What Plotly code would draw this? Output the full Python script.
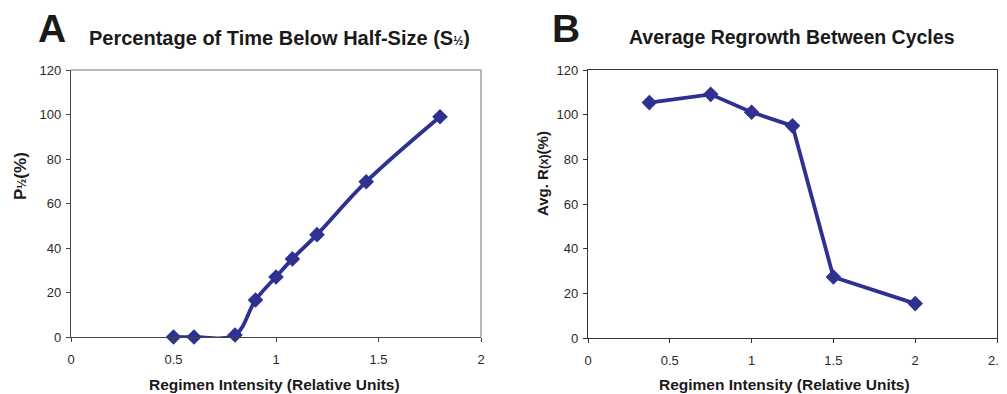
import plotly.graph_objects as go

# Panel A data
a_x = [0.5, 0.6, 0.8, 0.9, 1.0, 1.08, 1.2, 1.44, 1.8]
a_y = [0.0, 0.0, 0.9, 16.6, 27.0, 35.1, 46.0, 69.8, 99.0]
# Panel B data
b_x = [0.375, 0.75, 1.0, 1.25, 1.5, 2.0]
b_y = [105.4, 109.1, 101.1, 95.0, 27.3, 15.4]

a_xticks = [0, 0.5, 1, 1.5, 2]
b_xticks = [0, 0.5, 1, 1.5, 2, 2.5]
yticks = [0, 20, 40, 60, 80, 100, 120]

W, H = 1007, 394
OFF = 8  # page body margin offset
COL = "#2E3192"
FONT = "Liberation Sans, Arial, sans-serif"

def px(x):
    return (x - OFF) / W

def py(y):
    return 1 - (y - OFF) / H

fig = go.Figure()
fig.add_trace(go.Scatter(x=a_x, y=a_y, mode="lines+markers", xaxis="x", yaxis="y",
                         line=dict(color=COL, width=3.8, shape="spline", smoothing=1.0),
                         marker=dict(symbol="diamond", size=12, color=COL),
                         showlegend=False, cliponaxis=False))
fig.add_trace(go.Scatter(x=b_x, y=b_y, mode="lines+markers", xaxis="x2", yaxis="y2",
                         line=dict(color=COL, width=3.8),
                         marker=dict(symbol="diamond", size=12, color=COL),
                         showlegend=False, cliponaxis=False))

tickfont = dict(family=FONT, size=13, color="#2a2a2a")
axcommon = dict(showgrid=False, zeroline=False, ticks="outside", ticklen=4, tickwidth=1,
                tickfont=tickfont, showline=True, linewidth=1.3, fixedrange=True,
                ticklabeloverflow="allow")

fig.update_layout(
    width=W, height=H, margin=dict(l=0, r=0, t=0, b=0, autoexpand=False),
    paper_bgcolor="white", plot_bgcolor="white",
    xaxis=dict(domain=[px(71), px(481)], range=[0, 2], tickvals=a_xticks,
               ticktext=[str(v) for v in a_xticks], linecolor="#444444", tickcolor="#444444",
               anchor="y", mirror=False, ticklabelstandoff=6, **axcommon),
    yaxis=dict(domain=[py(337), py(70)], range=[0, 120], tickvals=yticks,
               linecolor="#444444", tickcolor="#444444", anchor="x", ticklabelstandoff=2, **axcommon),
    xaxis2=dict(domain=[px(588), px(997)], range=[0, 2.5], tickvals=b_xticks,
                ticktext=[str(v) for v in b_xticks], linecolor="#333333", tickcolor="#333333",
                anchor="y2", mirror=True, ticklabelstandoff=6, **axcommon),
    yaxis2=dict(domain=[py(338), py(70)], range=[0, 120], tickvals=yticks,
                linecolor="#333333", tickcolor="#333333", anchor="x2", mirror=True,
                ticklabelstandoff=2, **axcommon),
)

# Gray top/right frame of panel A
fig.add_shape(type="line", xref="paper", yref="paper", x0=px(71), x1=px(481), y0=py(70), y1=py(70),
              line=dict(color="#A0A0A0", width=1.5))
fig.add_shape(type="line", xref="paper", yref="paper", x0=px(481), x1=px(481), y0=py(70), y1=py(337),
              line=dict(color="#A0A0A0", width=1.5))

ann = []
def A(text, x, y, size, angle=0, xanchor="center"):
    ann.append(dict(text=text, x=px(x), y=py(y), xref="paper", yref="paper", showarrow=False,
                    xanchor=xanchor, yanchor="middle", textangle=angle,
                    font=dict(family=FONT, size=size, color="#1a1a1a")))

A("<b>A</b>", 52, 29, 39)
A("<b>Percentage of Time Below Half-Size (S<span style='font-size:12px'>½</span>)</b>", 87, 38, 20, xanchor="left")
A("<b>B</b>", 566, 29, 39)
A("<b>Average Regrowth Between Cycles</b>", 627, 37, 19.5, xanchor="left")
A("<b>Regimen Intensity (Relative Units)</b>", 274, 384, 15.5)
A("<b>Regimen Intensity (Relative Units)</b>", 784, 384, 15.5)
A("<b>P<span style='font-size:12px'>½</span>(%)</b>", 21, 176, 17, angle=-90)
A("<b>Avg. R<span style='font-size:12px'>(x)</span>(%)</b>", 542, 174, 15, angle=-90)
fig.update_layout(annotations=ann)

fig.write_html("out.html")
